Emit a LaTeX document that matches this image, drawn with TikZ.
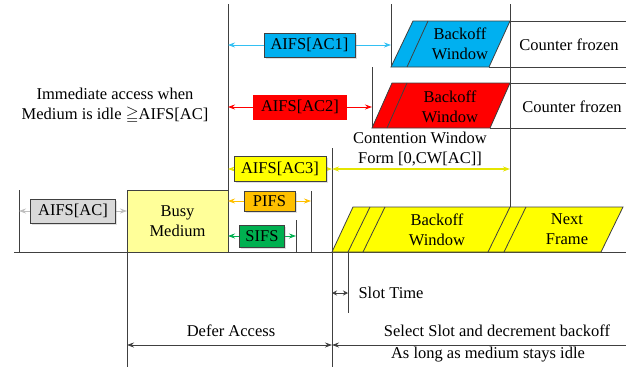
\documentclass[tikz,border=0pt]{standalone}
\usepackage{fontspec}
\usepackage{amssymb}
\setmainfont{Liberation Serif}
\usetikzlibrary{arrows.meta,shadows}

\definecolor{acone}{HTML}{00B0F0}
\definecolor{actwo}{HTML}{FF0000}
\definecolor{acthree}{HTML}{FFFF00}
\definecolor{pifs}{HTML}{FFC000}
\definecolor{sifs}{HTML}{00B050}
\definecolor{acgray}{HTML}{D9D9D9}
\definecolor{busy}{HTML}{FFFF99}
\definecolor{edgegray}{HTML}{404040}

\tikzset{
    edge/.style={draw=edgegray, line width=0.8pt},
    gap/.style={<->, >={Stealth[length=7pt, width=5pt]}, line width=0.8pt},
    ifs/.style={draw=edgegray, line width=0.7pt, text=black, inner sep=2pt, minimum height=24pt},
    shade/.style={drop shadow={shadow xshift=1.5pt, shadow yshift=-1.5pt, opacity=0.25}},
    txt/.style={align=center, text=black}
}

\begin{document}
\begin{tikzpicture}[x=1pt, y=-1pt, font=\fontsize{16.5}{20}\selectfont]
        \useasboundingbox (0,0) rectangle (626,367);

        % Time line and slot borders
        \draw[edge] (14,252) -- (626,252);
        \draw[edge] (19,190) -- (19,252);
        \draw[edge] (228,4) -- (228,252);
        \draw[edge] (311,191) -- (311,252);
        \draw[edge] (296,220) -- (296,252);
        \draw[edge] (332,148) -- (332,367);
        \draw[edge] (391,4) -- (391,67);
        \draw[edge] (372,67) -- (372,128);
        \draw[edge] (510,4) -- (510,207);
        \draw[edge] (348,252) -- (348,313);

        % Busy medium
        \node[edge, fill=busy, minimum width=101pt, minimum height=62pt, txt] (busy) at (177.5,221) {Busy\\Medium};
        \draw[edge] (127,252) -- (127,367);

        % AC1 backoff
        \fill[acone, draw=edgegray, line width=0.8pt] (391,67) -- (413,21) -- (510,21) -- (489,67) -- cycle;
        \draw[edge] (428,21) -- (407,67);
        \draw[edge] (510,21) -- (626,21);
        \draw[edge] (489,67) -- (626,67);
        \node[txt] (bw1) at (460,44) {Backoff\\Window};
        \node[txt] (cf1) at (569,45) {Counter frozen};

        % AC2 backoff
        \fill[actwo, draw=edgegray, line width=0.8pt] (372,128) -- (392,83) -- (510,83) -- (490,128) -- cycle;
        \draw[edge] (407,83) -- (387,128);
        \draw[edge] (510,83) -- (626,83);
        \draw[edge] (490,128) -- (626,128);
        \node[txt] (bw2) at (450,107) {Backoff\\Window};
        \node[txt] (cf2) at (572,107) {Counter frozen};

        % Backoff window and next frame
        \fill[acthree, draw=edgegray, line width=0.8pt] (332,252) -- (353,207) -- (623,207) -- (601,252) -- cycle;
        \draw[edge] (370,207) -- (348,252);
        \draw[edge] (385,207) -- (363,252);
        \draw[edge] (510,207) -- (488,252);
        \draw[edge] (526,207) -- (504,252);
        \node[txt] (bw3) at (437,230) {Backoff\\Window};
        \node[txt] (nf) at (567,229) {Next\\Frame};

        % Interframe spaces
        \coordinate (ac1l) at (228,45);  \coordinate (ac1r) at (391,45);
        \coordinate (ac2l) at (228,107); \coordinate (ac2r) at (372,107);
        \coordinate (ac3l) at (228,169); \coordinate (ac3r) at (332,169);
        \coordinate (pl) at (228,201);   \coordinate (pr) at (311,201);
        \coordinate (sl) at (228,236);   \coordinate (sr) at (296,236);
        \coordinate (acl) at (19,211);   \coordinate (acr) at (127,211);
        \coordinate (cwr) at (510,169);

        \draw[gap, acone!80] (ac1l) -- (ac1r) node[midway, ifs, shade, fill=acone, minimum width=91pt] (aifs1) {AIFS[AC1]};
        \draw[gap, actwo] (ac2l) -- (ac2r) node[midway, ifs, draw=actwo, fill=actwo, minimum width=93pt] (aifs2) {AIFS[AC2]};
        \draw[gap, acthree!90!black] (ac3l) -- (ac3r) node[midway, ifs, shade, fill=acthree, minimum width=92pt, minimum height=25pt] (aifs3) {AIFS[AC3]};
        \draw[gap, pifs] (pl) -- (pr) node[midway, ifs, shade, fill=pifs, minimum width=51pt, minimum height=20pt] (pifsbox) {PIFS};
        \draw[gap, sifs] (sl) -- (sr) node[midway, ifs, shade, fill=sifs, minimum width=45pt, minimum height=22pt] (sifsbox) {SIFS};
        \draw[gap, black!25] (acl) -- (acr) node[midway, ifs, shade, fill=acgray, minimum width=85pt] (aifs) {AIFS[AC]};

        % Contention window
        \draw[gap, acthree!90!black, line width=1.2pt] (ac3r) -- (cwr);
        \node[txt] (cw) at (420,149) {Contention Window\\Form [0,CW[AC]]};

        % Immediate access note
        \node[txt] (imm) at (115,106) {Immediate access when\\Medium is idle $\geqq$AIFS[AC]};

        % Slot time
        \coordinate (st1) at (332,293); \coordinate (st2) at (348,293);
        \draw[<->, >={Stealth[length=5pt, width=5pt]}, edgegray, line width=0.8pt] (st1) -- (st2);
        \node[anchor=west, text=black] (slot) at (355,293) {Slot Time};

        % Defer and backoff spans
        \coordinate (d1) at (127,345); \coordinate (d2) at (332,345); \coordinate (d3) at (626,345);
        \draw[gap, edgegray] (d1) -- (d2);
        \draw[<-, >={Stealth[length=7pt, width=5pt]}, edgegray, line width=0.8pt] (d2) -- (d3);
        \node[txt] (defer) at (231,331) {Defer Access};
        \node[txt] (sel) at (497,331) {Select Slot and decrement backoff};
        \node[txt] (idle) at (488,355) {As long as medium stays idle};

\end{tikzpicture}
\end{document}
